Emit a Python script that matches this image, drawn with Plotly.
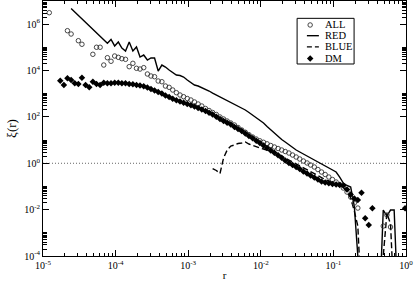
import plotly.graph_objects as go

# ---------------- data ----------------
# separation bins r
R = [
    1.22e-5, 1.37e-5, 1.54e-5, 1.73e-5, 1.94e-5, 2.17e-5, 2.44e-5, 2.74e-5, 3.07e-5, 3.44e-5,
    3.86e-5, 4.34e-5, 4.86e-5, 5.46e-5, 6.12e-5, 6.87e-5, 7.71e-5, 8.65e-5, 9.71e-5, 1.09e-4,
    1.22e-4, 1.37e-4, 1.54e-4, 1.73e-4, 1.94e-4, 2.17e-4, 2.44e-4, 2.74e-4, 3.07e-4, 3.44e-4,
    3.86e-4, 4.34e-4, 4.86e-4, 5.46e-4, 6.12e-4, 6.87e-4, 7.71e-4, 8.65e-4, 9.71e-4, 1.09e-3,
    1.22e-3, 1.37e-3, 1.54e-3, 1.73e-3, 1.94e-3, 2.17e-3, 2.44e-3, 2.74e-3, 3.07e-3, 3.44e-3,
    3.86e-3, 4.34e-3, 4.86e-3, 5.46e-3, 6.12e-3, 6.87e-3, 7.71e-3, 8.65e-3, 9.71e-3, 1.09e-2,
    1.22e-2, 1.37e-2, 1.54e-2, 1.73e-2, 1.94e-2, 2.17e-2, 2.44e-2, 2.74e-2, 3.07e-2, 3.44e-2,
    3.86e-2, 4.34e-2, 4.86e-2, 5.46e-2, 6.12e-2, 6.87e-2, 7.71e-2, 8.65e-2, 9.71e-2, 1.09e-1,
    1.22e-1, 1.37e-1, 1.54e-1, 1.73e-1, 1.94e-1, 2.17e-1, 2.44e-1, 2.74e-1, 3.07e-1, 3.44e-1,
    3.86e-1, 4.34e-1, 4.86e-1, 5.46e-1, 6.12e-1, 6.87e-1, 7.71e-1, 8.65e-1, 9.71e-1,
]

NEG = 1e-6  # bins whose value is non-positive (drawn off the bottom of the log axis)

XI_ALL = [
    3.13e6, None, None, None, None, 5.24e5, 3.77e5, None, 1.94e5, 1.36e5,
    None, None, 5.02e4, 1.01e5, 1.01e5, 1.73e4, 3.58e4, 2.51e4, 4.24e4, 3.72e4,
    3.24e4, 3.05e4, 1.47e4, 2.05e4, 1.25e4, 1.16e4, 1.33e4, 7.10e3, 5.81e3, 5.42e3,
    3.54e3, 3.30e3, 2.15e3, 1.89e3, 1.45e3, 1.11e3, 881, 743, 622, 536,
    440, 360, 295, 230, 189, 155, 127, 99.1, 81.2, 66.5,
    54.6, 44.7, 34.9, 27.2, 21.7, 17.1, 13.6, 11.1, 9.31, 8.02,
    6.92, 5.84, 5.03, 4.33, 3.73, 3.21, 2.77, 2.27, 1.86, 1.53,
    1.25, 1.03, 0.841, 0.690, 0.538, 0.420, 0.327, 0.255, 0.199, 0.155,
    0.121, 0.0857, 0.0575, 0.0350, 0.0193, 0.0117, None, None, None, None,
    None, None, 0.00196, 0.00586, 0.00178, None, None, None, None,
]

XI_RED = [
    None, None, None, None, None, None, 4.74e6, None, None, None,
    None, None, None, None, None, None, 1.50e5, 2.18e5, 1.15e5, 1.70e5,
    9.38e4, 6.97e4, 1.70e5, 6.97e4, 1.04e5, 3.84e4, 4.68e4, 2.85e4, 3.48e4, 3.48e4,
    9.55e3, 1.73e4, 1.42e4, 1.05e4, 8.22e3, 6.43e3, 6.11e3, 5.26e3, 3.91e3, 3.05e3,
    2.38e3, 2.15e3, 1.85e3, 1.60e3, 1.31e3, 1.07e3, 881, 722, 622, 536,
    440, 360, 295, 242, 199, 155, 121, 89.7, 73.5, 54.6,
    38.5, 27.2, 19.2, 14.3, 10.6, 8.27, 6.14, 4.79, 3.73, 3.06,
    2.51, 2.06, 1.69, 1.38, 1.13, 0.929, 0.762, 0.625, 0.538, 0.420,
    0.255, 0.141, 0.110, 0.0946, 0.0143, 1.0e-4, None, None, None, None,
    None, NEG, 0.00962, 0.00531, 0.00962, 0.00962, NEG, None, None,
]

XI_BLUE = [
    None, None, None, None, None, None, None, None, None, None,
    None, None, None, None, None, None, None, None, None, None,
    None, None, None, None, None, None, None, None, None, None,
    None, None, None, None, None, None, None, None, None, None,
    None, None, None, None, None, 0.594, 0.488, 0.361, 1.69, 3.73,
    5.56, 6.14, 7.12, 7.48, 8.27, 6.78, 5.84, 5.03, 4.55, 4.12,
    3.73, 3.21, 2.77, 2.39, 2.06, 1.69, 1.38, 1.13, 0.929, 0.762,
    0.625, 0.512, 0.420, 0.344, 0.282, 0.231, 0.199, 0.172, 0.148, 0.127,
    0.110, 0.0900, 0.0636, 0.0317, 0.00871, 0.00196, NEG, None, None, None,
    None, None, 1.0e-4, 0.00714, 0.00240, NEG, None, None, None,
]

XI_DM = [
    None, None, None, 3.65e3, 2.38e3, 4.62e3, 3.91e3, 2.82e3, 2.63e3, 4.91e3,
    2.38e3, 1.89e3, 3.30e3, 2.63e3, 2.38e3, 2.99e3, 2.82e3, 2.82e3, 2.99e3, 2.99e3,
    2.82e3, 2.82e3, 2.63e3, 2.55e3, 2.38e3, 2.26e3, 2.09e3, 1.85e3, 1.60e3, 1.38e3,
    1.19e3, 1.02e3, 838, 722, 604, 520, 461, 406, 360, 320,
    281, 242, 211, 180, 150, 126, 101, 81.2, 66.5, 55.6,
    46.6, 36.6, 30.1, 24.7, 19.2, 15.0, 11.9, 9.40, 7.48, 5.84,
    4.55, 3.55, 2.82, 2.20, 1.74, 1.32, 1.03, 0.841, 0.690, 0.565,
    0.441, 0.361, 0.296, 0.243, 0.199, 0.163, 0.148, 0.136, 0.127, 0.121,
    0.115, 0.110, 0.0738, 0.0449, 0.0302, 0.0260, 0.0537, 0.00422, 0.00217, 0.0114,
    None, None, None, None, None, None, None, None, 0.0114,
]

UNITY_X = [1e-5, 1.0]
UNITY_Y = [1.0, 1.0]

X_TICKS = [1e-5, 1e-4, 1e-3, 1e-2, 1e-1, 1e0]
X_LABELS = ["10<sup>-5</sup>", "10<sup>-4</sup>", "10<sup>-3</sup>",
            "10<sup>-2</sup>", "10<sup>-1</sup>", "10<sup>0</sup>"]
Y_TICKS = [1e-4, 1e-2, 1e0, 1e2, 1e4, 1e6]
Y_LABELS = ["10<sup>-4</sup>", "10<sup>-2</sup>", "10<sup>0</sup>",
            "10<sup>2</sup>", "10<sup>4</sup>", "10<sup>6</sup>"]

LEGEND_NAMES = ["ALL", "RED", "BLUE", "DM"]

# ---------------- style ----------------
FONT = "Liberation Serif, Times New Roman, serif"

x_minor = [m * 10.0 ** e for e in range(-5, 0) for m in range(2, 10)]
y_minor = [m * 10.0 ** e for e in (-4, -2, 0, 2, 4, 6) for m in range(2, 11)]

ALL_MARKER = dict(symbol="circle-open", size=4.5, color="#333333", line=dict(width=0.9))
DM_MARKER = dict(symbol="diamond", size=5, color="black")

fig = go.Figure()

fig.add_trace(go.Scatter(x=UNITY_X, y=UNITY_Y, mode="lines",
                         line=dict(color="#666666", width=1, dash="1px,2px"),
                         hoverinfo="skip"))
fig.add_trace(go.Scatter(x=R, y=XI_RED, mode="lines", connectgaps=True,
                         line=dict(color="black", width=1.4), name="RED"))
fig.add_trace(go.Scatter(x=R, y=XI_BLUE, mode="lines", connectgaps=True,
                         line=dict(color="black", width=1.4, dash="6px,3px"), name="BLUE"))
fig.add_trace(go.Scatter(x=R, y=XI_ALL, mode="markers", marker=ALL_MARKER, name="ALL"))
fig.add_trace(go.Scatter(x=R, y=XI_DM, mode="markers", marker=DM_MARKER, name="DM"))

# ---------------- hand-made legend (compact like the reference) ----------------
LX0, LX1 = 0.727, 0.760   # sample span (fraction of plot area)
LXC = 0.736
ROW_Y = [0.906, 0.864, 0.820, 0.775]
fig.add_trace(go.Scatter(x=[LXC], y=[ROW_Y[0]], xaxis="x2", yaxis="y2", mode="markers",
                         marker=ALL_MARKER, hoverinfo="skip"))
fig.add_trace(go.Scatter(x=[LX0, LX1], y=[ROW_Y[1]] * 2, xaxis="x2", yaxis="y2", mode="lines",
                         line=dict(color="black", width=1.4), hoverinfo="skip"))
fig.add_trace(go.Scatter(x=[LX0, LX1], y=[ROW_Y[2]] * 2, xaxis="x2", yaxis="y2", mode="lines",
                         line=dict(color="black", width=1.4, dash="5px,3px"), hoverinfo="skip"))
fig.add_trace(go.Scatter(x=[LXC], y=[ROW_Y[3]], xaxis="x2", yaxis="y2", mode="markers",
                         marker=DM_MARKER, hoverinfo="skip"))

annotations = []
for name, yy in zip(LEGEND_NAMES, ROW_Y):
    annotations.append(dict(x=0.771, y=yy, xref="paper", yref="paper", text=name,
                            showarrow=False, xanchor="left", yanchor="middle",
                            font=dict(family=FONT, size=10.5, color="black")))

shapes = [dict(type="rect", xref="paper", yref="paper", x0=0.700, x1=0.857,
               y0=0.753, y1=0.932, line=dict(color="black", width=1),
               fillcolor="rgba(0,0,0,0)")]

axis_common = dict(type="log", tickmode="array", ticks="inside", ticklen=6, tickwidth=1,
                   tickcolor="black", showline=True, linecolor="black", linewidth=1,
                   mirror="ticks", showgrid=False, zeroline=False, automargin=False,
                   tickfont=dict(family=FONT, size=10, color="black"))

fig.update_layout(
    width=415, height=281,
    margin=dict(l=43, r=9, t=1, b=25),
    paper_bgcolor="white", plot_bgcolor="white",
    showlegend=False,
    font=dict(family=FONT, size=10, color="black"),
    xaxis=dict(range=[-5, 0], tickvals=X_TICKS, ticktext=X_LABELS,
               minor=dict(tickmode="array", tickvals=x_minor, ticks="inside",
                          ticklen=3, tickcolor="black", showgrid=False),
               title=dict(text="r", font=dict(family=FONT, size=11), standoff=3),
               **axis_common),
    yaxis=dict(range=[-4, 7], tickvals=Y_TICKS, ticktext=Y_LABELS,
               minor=dict(tickmode="array", tickvals=y_minor, ticks="inside",
                          ticklen=4, tickcolor="black", showgrid=False),
               title=dict(text="ξ(r)", font=dict(family=FONT, size=13), standoff=4),
               **axis_common),
    xaxis2=dict(overlaying="x", range=[0, 1], visible=False, anchor="y2"),
    yaxis2=dict(overlaying="y", range=[0, 1], visible=False, anchor="x2"),
    annotations=annotations,
    shapes=shapes,
)

# the page's default 8px body margin would shift the figure; remove it
fig.write_html("out.html",
               config={"displayModeBar": False},
               post_script="document.body.style.margin='0';document.body.style.overflow='hidden';")
